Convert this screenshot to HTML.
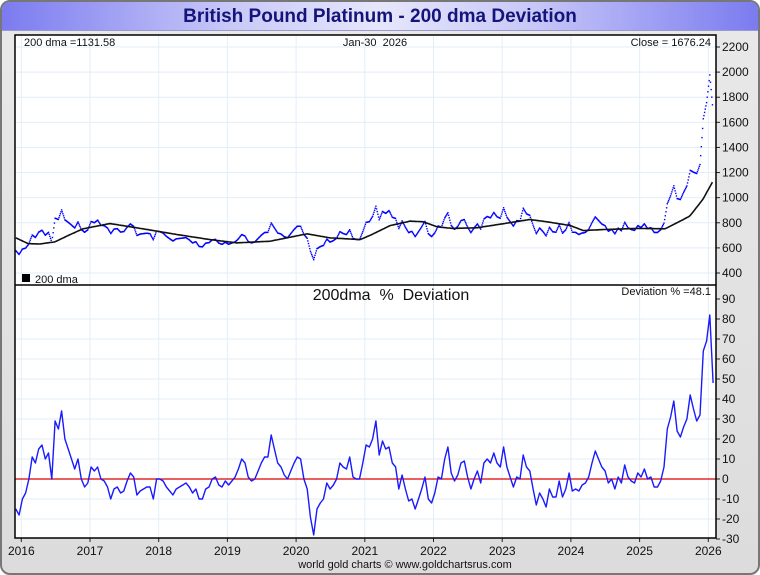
<!DOCTYPE html>
<html><head><meta charset="utf-8">
<style>
html,body{margin:0;padding:0;width:760px;height:575px;overflow:hidden;background:#fff;font-family:"Liberation Sans",sans-serif;}
#frame{position:absolute;left:0;top:0;width:756px;height:571px;border:2px solid #777;border-radius:10px;background:linear-gradient(#e9e9e9,#dcdcdc);overflow:hidden;}
#title{position:absolute;left:0;top:0;width:756px;height:28px;background:linear-gradient(90deg,#7b7bf0,#c8c8f8 30%,#e6e6fb 50%,#c8c8f8 70%,#7b7bf0);border-bottom:1px solid #9a9ad0;text-align:center;font-weight:bold;font-size:19px;line-height:30px;color:#14147a;}
svg{position:absolute;left:0;top:0;}
svg text{white-space:pre;}
</style></head><body>
<div id="frame">
<div id="title">British Pound Platinum - 200 dma Deviation</div>
</div>
<svg id="chart" width="760" height="575"></svg>
<script>
const devValues=[-15,-18,-10,-7,0,11,8,15,17,10,13,0,29,25,34,20,15,10,5,10,0,-4,-2,6,4,6,0,-1,-4,-10,-5,-4,-7,-6,-1,3,1,-8,-6,-5,-4,-4,-10,0,0,-1,-4,-6,-8,-5,-4,-3,-2,-4,-7,-5,-10,-10,-5,-4,0,1,-3,-4,-1,-3,-1,1,5,10,8,1,-1,0,4,8,11,11,22,15,8,6,2,0,4,8,11,10,0,-5,-19,-28,-15,-12,-10,-2,-5,-3,0,8,6,5,11,1,0,0,8,17,16,20,29,
12,19,15,16,8,6,-5,2,-5,-11,-10,-15,-10,-5,1,-10,-12,-7,1,0,10,16,3,-1,2,8,9,1,-5,0,4,-2,8,10,8,13,8,6,16,6,1,-4,1,0,12,6,4,-5,-13,-7,-10,-14,-5,-9,-9,-1,-9,-5,3,-6,-5,-6,-3,-2,1,8,14,10,6,4,-2,0,-5,1,-2,7,1,-1,-2,3,1,5,0,1,-4,-4,-1,6,25,31,39,24,21,26,30,42,35,29,32,64,69,82,48];
const devStart=2015.92, devEnd=2026.07;
const maYears=[2015.92,2016.10,2016.27,2016.49,2016.71,2016.90,2017.29,2017.77,2018.27,2018.75,2019.14,2019.62,2020.16,2020.49,2020.93,2021.07,2021.37,2021.66,2021.85,2022.05,2022.28,2022.63,2023.01,2023.40,2023.65,2023.99,2024.18,2024.47,2024.96,2025.37,2025.59,2025.73,2025.92,2026.07];
const maValues=[680,634,631,648,706,752,794,752,706,666,640,653,712,680,666,698,778,813,808,768,755,760,792,826,808,778,738,746,755,752,813,853,986,1133];
const yearLabels=[2016,2017,2018,2019,2020,2021,2022,2023,2024,2025,2026];
const priceTicks=[400,600,800,1000,1200,1400,1600,1800,2000,2200];
const devTicks=[-30,-20,-10,0,10,20,30,40,50,60,70,80,90];

const NS="http://www.w3.org/2000/svg";
const svg=document.getElementById('chart');
const L=15,R=716,T=35,MID=285,B=538;
const xS=y=>21.3+(y-2016)*68.7;
const pY=v=>47+(2200-v)*226/1800;
const dY=v=>479-(v)*2;
function mk(tag,attrs,parent){const e=document.createElementNS(NS,tag);for(const k in attrs)e.setAttribute(k,attrs[k]);(parent||svg).appendChild(e);return e;}
function txt(x,y,s,size,anchor,name){const t=mk('text',{x:x,y:y,'font-size':size,'text-anchor':anchor||'start',fill:'#111','font-family':'Liberation Sans, sans-serif'});t.textContent=s;


return t;}
mk('rect',{x:L,y:T,width:R-L,height:B-T,fill:'#fff'});
yearLabels.forEach(yr=>{const x=xS(yr);
 const g=mk('line',{x1:x,x2:x,y1:T,y2:B,stroke:'#e3eef7','stroke-width':1});
 
 
 mk('line',{x1:x,x2:x,y1:B,y2:B+4,stroke:'#222'});
 txt(x,555,String(yr),12,'middle','x-tick-label');});
priceTicks.forEach(v=>{const y=pY(v);
 const g=mk('line',{x1:L,x2:R,y1:y,y2:y,stroke:'#e3eef7'});
 
 
 mk('line',{x1:R,x2:R+4,y1:y,y2:y,stroke:'#222'});
 txt(722,y+4,String(v),12,'start','price-tick-label');});
devTicks.forEach(v=>{const y=dY(v);
 if(v!==90&&v!==-30){const g=mk('line',{x1:L,x2:R,y1:y,y2:y,stroke:'#e3eef7'});
 
 }
 mk('line',{x1:R,x2:R+4,y1:y,y2:y,stroke:'#222'});
 txt(722,y+4,String(v),12,'start','deviation-tick-label');});
const n=devValues.length;
const devYear=i=>devStart+(devEnd-devStart)*i/(n-1);
function maAt(yr){if(yr<=maYears[0])return maValues[0];for(let i=1;i<maYears.length;i++){if(yr<=maYears[i]){const f=(yr-maYears[i-1])/(maYears[i]-maYears[i-1]);return maValues[i-1]+f*(maValues[i]-maValues[i-1]);}}return maValues[maValues.length-1];}
const dots=mk('g',{fill:'#0000ff'});


for(let i=0;i<n-1;i++){for(let k=0;k<5;k++){const f=k/5;const yr=devYear(i)+f*(devYear(i+1)-devYear(i));const d=devValues[i]+f*(devValues[i+1]-devValues[i]);const p=maAt(yr)*(1+d/100);
 mk('rect',{x:xS(yr)-0.7,y:pY(p)-0.7,width:1.4,height:1.4},dots);}}
let ma='';for(let yr=maYears[0];yr<=maYears[maYears.length-1]+1e-6;yr+=0.02){ma+=(ma?'L':'M')+xS(yr).toFixed(1)+','+pY(maAt(yr)).toFixed(1);}
const maPath=mk('path',{d:ma,fill:'none',stroke:'#111','stroke-width':1.6});


const z=mk('line',{x1:L,x2:R,y1:dY(0),y2:dY(0),stroke:'#dd0000','stroke-width':1.2});


let dp='';devValues.forEach((v,i)=>{dp+=(i?'L':'M')+xS(devYear(i)).toFixed(1)+','+dY(v).toFixed(1);});
const dl=mk('path',{d:dp,fill:'none',stroke:'#1a1aff','stroke-width':1.4,'stroke-linejoin':'round'});


mk('rect',{x:L,y:T,width:R-L,height:B-T,fill:'none',stroke:'#000','stroke-width':1.5});
mk('line',{x1:L,x2:R,y1:MID,y2:MID,stroke:'#000','stroke-width':1.5});
txt(24,46,'200 dma =1131.58',11,'start','ma-value-label');
txt(375,46,'Jan-30  2026',11,'middle','date-label');
txt(711,46,'Close = 1676.24',11,'end','close-label');
const sq=mk('rect',{x:22,y:274,width:8,height:8,fill:'#000'});


txt(35,283,'200 dma',11,'start','legend-entry');
txt(391,300,'200dma  %  Deviation',16,'middle','deviation-panel-title');
txt(711,295,'Deviation % =48.1',11,'end','deviation-value-label');
txt(405,568,'world gold charts © www.goldchartsrus.com',11,'middle','footer-credit');
</script>
</body></html>
